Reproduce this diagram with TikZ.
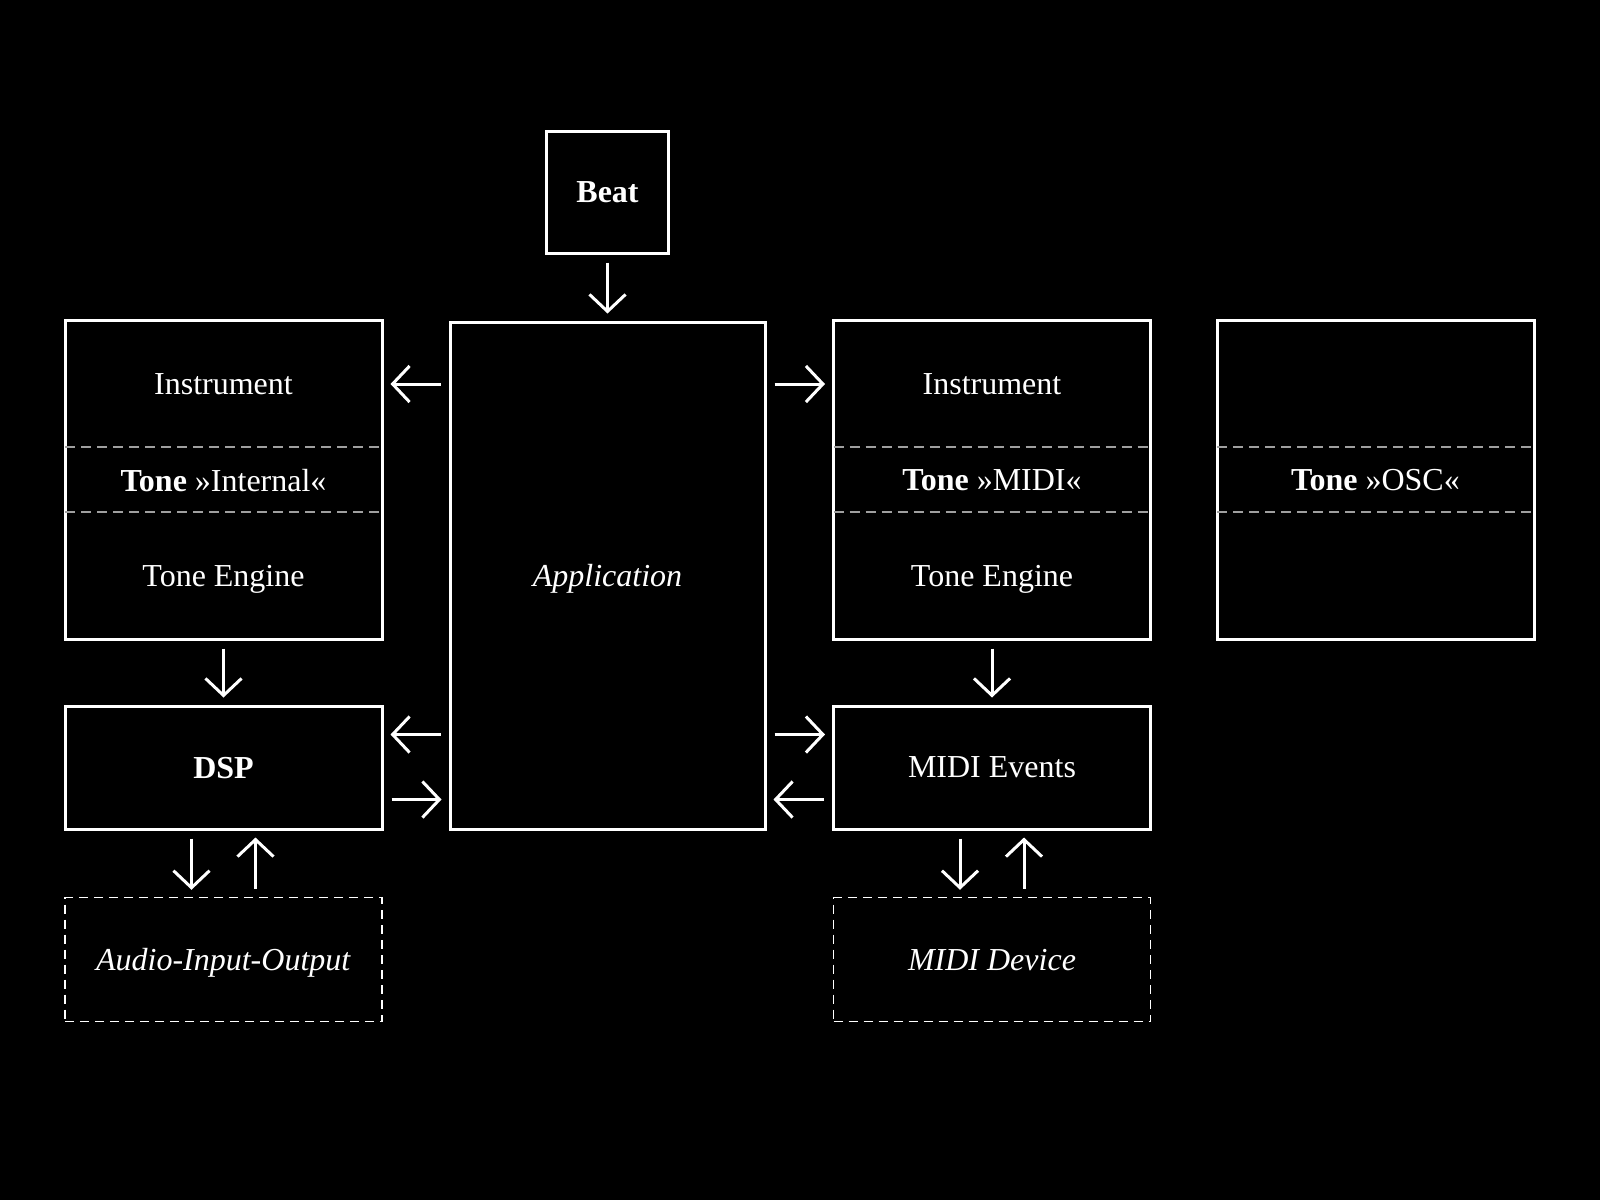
\documentclass[tikz,border=0pt]{standalone}
\usepackage{fontspec}
\setmainfont{Liberation Serif}
\usetikzlibrary{arrows.meta}
\tikzset{
  box/.style={draw=white,line width=3pt,inner sep=0pt,minimum width=#1},
  box/.default={317pt},
  ghost/.style={draw=white,line width=1.5pt,dash pattern=on 9pt off 6pt,inner sep=0pt,minimum width=317pt,minimum height=124pt},
  sep/.style={draw=gray!75,line width=1.5pt,dash pattern=on 10pt off 6pt},
  arr/.style={-{Straight Barb[length=17pt,width=36pt]},draw=white,line width=3pt,shorten <=8pt,shorten >=7pt}
}
\begin{document}
\begin{tikzpicture}[x=1pt,y=-1pt,text=white,font=\fontsize{32}{38}\selectfont,every node/.style={text depth=0pt}]
  \fill[black] (0,0) rectangle (1600,1200);
  % top
  \node[box=122pt,minimum height=122pt] (beat) at (607.5,192) {\textbf{Beat}};
  \node[box=315pt,minimum height=507pt] (app) at (607.5,575.5) {\textit{Application}};
  % instruments
  \node[box,minimum height=319pt] (instL) at (223.5,479.5) {};
  \node[box,minimum height=319pt] (instR) at (992,479.5) {};
  \node[box,minimum height=319pt] (osc) at (1375.5,479.5) {};
  \node (instLa) at (223.5,384) {Instrument};
  \node (instLb) at (223.5,480) {\textbf{Tone} »Internal«};
  \node (instLc) at (223.5,576) {Tone Engine};
  \node (instRa) at (992,384) {Instrument};
  \node (instRb) at (992,480) {\textbf{Tone} »MIDI«};
  \node (instRc) at (992,576) {Tone Engine};
  \node (oscb) at (1375.5,480) {\textbf{Tone} »OSC«};
  \foreach \n in {instL,instR,osc} {
    \draw[sep] ([xshift=1.5pt]\n.west |- 0,447) -- ([xshift=-1.5pt]\n.east |- 0,447);
    \draw[sep] ([xshift=1.5pt]\n.west |- 0,512) -- ([xshift=-1.5pt]\n.east |- 0,512);
  }
  % lower row
  \node[box,minimum height=123pt] (dsp) at (223.5,767.5) {\textbf{DSP}};
  \node[box,minimum height=123pt] (midiev) at (992,767.5) {MIDI Events};
  \node[ghost] (audio) at (223.5,959.5) {\textit{Audio-Input-Output}};
  \node[ghost] (mididev) at (992,959.5) {\textit{MIDI Device}};
  % arrows
  \draw[arr] (beat) -- (app);
  \draw[arr] (app.west |- instLa) -- (instL.east |- instLa);
  \draw[arr] (app.east |- instRa) -- (instR.west |- instRa);
  \draw[arr] (instL) -- (dsp);
  \draw[arr] (instR) -- (midiev);
  \coordinate (dspin) at ([yshift=33pt]dsp.east);
  \coordinate (dspout) at ([yshift=-32pt]dsp.east);
  \draw[arr] (app.west |- dspin) -- (dspin);
  \draw[arr] (dspout) -- (app.west |- dspout);
  \coordinate (midiin) at ([yshift=33pt]midiev.west);
  \coordinate (midiout) at ([yshift=-32pt]midiev.west);
  \draw[arr] (app.east |- midiin) -- (midiin);
  \draw[arr] (midiout) -- (app.east |- midiout);
  \draw[arr] ([xshift=-32pt]dsp.south) -- ([xshift=-32pt]audio.north);
  \draw[arr] ([xshift=32pt]audio.north) -- ([xshift=32pt]dsp.south);
  \draw[arr] ([xshift=-32pt]midiev.south) -- ([xshift=-32pt]mididev.north);
  \draw[arr] ([xshift=32pt]mididev.north) -- ([xshift=32pt]midiev.south);
\end{tikzpicture}
\end{document}
